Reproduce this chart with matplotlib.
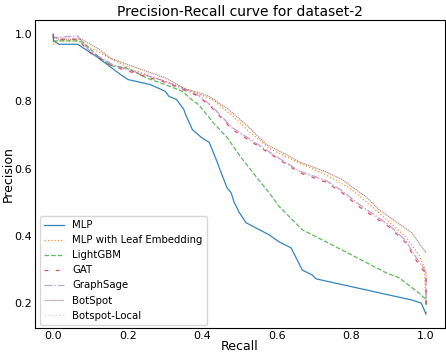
import matplotlib
matplotlib.use("Agg")
import matplotlib.pyplot as plt

names = ["MLP", "MLP with Leaf Embedding", "LightGBM", "GAT", "GraphSage", "BotSpot", "Botspot-Local"]

mlp_r = [0.0, 0.0, 0.015, 0.065, 0.12, 0.18, 0.2, 0.26, 0.30, 0.31, 0.33, 0.35, 0.355, 0.373, 0.397, 0.418,
         0.426, 0.44, 0.45, 0.466, 0.477, 0.485, 0.499, 0.517, 0.579, 0.606, 0.638, 0.668, 0.694, 0.705,
         0.962, 0.987, 1.0]
mlp_p = [1.0, 0.98, 0.97, 0.97, 0.93, 0.88, 0.865, 0.85, 0.83, 0.815, 0.806, 0.776, 0.76, 0.716, 0.693, 0.678,
         0.657, 0.618, 0.588, 0.543, 0.528, 0.50, 0.469, 0.439, 0.403, 0.382, 0.364, 0.298, 0.284, 0.272,
         0.209, 0.2, 0.167]

leaf_r = [0.0, 0.0, 0.015, 0.065, 0.07, 0.123, 0.21, 0.30, 0.373, 0.39, 0.426, 0.48, 0.525, 0.58, 0.64, 0.73,
          0.794, 0.855, 0.874, 0.946, 0.981, 0.995, 1.0]
leaf_p = [0.99, 0.97, 0.98, 0.98, 0.976, 0.946, 0.895, 0.86, 0.83, 0.822, 0.806, 0.758, 0.71, 0.66, 0.627, 0.582,
          0.543, 0.487, 0.468, 0.397, 0.343, 0.307, 0.2]

lgb_r = [0.0, 0.0, 0.015, 0.065, 0.08, 0.123, 0.158, 0.195, 0.25, 0.30, 0.346, 0.37, 0.39, 0.40, 0.418, 0.426,
         0.466, 0.499, 0.544, 0.579, 0.606, 0.668, 0.785, 0.893, 0.928, 0.981, 1.0, 1.0]
lgb_p = [1.0, 0.98, 0.98, 0.98, 0.976, 0.93, 0.905, 0.9, 0.87, 0.85, 0.83, 0.806, 0.79, 0.776, 0.752, 0.74,
         0.693, 0.64, 0.576, 0.528, 0.487, 0.418, 0.352, 0.29, 0.275, 0.23, 0.21, 0.19]

gat_r = [0.0, 0.0, 0.015, 0.065, 0.097, 0.158, 0.23, 0.30, 0.39, 0.426, 0.48, 0.534, 0.597, 0.66, 0.731, 0.775,
         0.82, 0.9, 0.946, 0.973, 0.99, 1.0, 1.0]
gat_p = [1.0, 0.99, 0.985, 0.985, 0.946, 0.905, 0.88, 0.857, 0.815, 0.78, 0.716, 0.678, 0.633, 0.588, 0.56, 0.528,
         0.487, 0.427, 0.379, 0.328, 0.3, 0.29, 0.17]

sage_r = [0.0, 0.0, 0.065, 0.097, 0.158, 0.23, 0.30, 0.39, 0.426, 0.48, 0.534, 0.597, 0.66, 0.731, 0.775,
          0.82, 0.9, 0.946, 0.973, 0.99, 1.0, 1.0]
sage_p = [1.0, 0.99, 0.995, 0.95, 0.91, 0.884, 0.86, 0.818, 0.785, 0.722, 0.683, 0.637, 0.593, 0.565, 0.534,
          0.494, 0.433, 0.386, 0.336, 0.31, 0.29, 0.2]

bot_r = [0.0, 0.0, 0.015, 0.065, 0.075, 0.123, 0.15, 0.21, 0.30, 0.356, 0.39, 0.418, 0.47, 0.517, 0.571, 0.625,
         0.66, 0.732, 0.775, 0.839, 0.874, 0.962, 1.0]
bot_p = [1.0, 0.99, 0.985, 0.985, 0.985, 0.955, 0.93, 0.905, 0.87, 0.836, 0.826, 0.815, 0.776, 0.731, 0.672, 0.642,
         0.62, 0.59, 0.567, 0.516, 0.478, 0.409, 0.349]

loc_r = [0.0, 0.0, 0.065, 0.097, 0.158, 0.23, 0.30, 0.39, 0.426, 0.48, 0.534, 0.597, 0.66, 0.731, 0.775,
         0.82, 0.9, 0.946, 0.973, 0.99, 1.0, 1.0]
loc_p = [1.0, 0.99, 0.99, 0.948, 0.908, 0.882, 0.858, 0.816, 0.782, 0.719, 0.68, 0.635, 0.59, 0.562, 0.531,
         0.49, 0.43, 0.383, 0.333, 0.31, 0.3, 0.22]

curves = [(mlp_r, mlp_p), (leaf_r, leaf_p), (lgb_r, lgb_p), (gat_r, gat_p),
          (sage_r, sage_p), (bot_r, bot_p), (loc_r, loc_p)]
colors = ["#1f77b4", "#ff7f0e", "#2ca02c", "#d62728", "#9467bd", "#8c564b", "#e377c2"]
styles = ["-", ":", "--", (0, (3, 6)), "-.", (0, (1, 0.6)), (0, (1, 2))]
alphas = [0.9, 0.85, 0.75, 0.8, 0.6, 0.65, 0.45]

fig = plt.figure(figsize=(4.46, 3.54), dpi=100)
ax = fig.add_axes([0.078, 0.073, 0.919, 0.870])
for (r, p), name, c, ls, a in zip(curves, names, colors, styles, alphas):
    ax.plot(r, p, color=c, linestyle=ls, linewidth=0.9, alpha=a, label=name)

ax.set_title("Precision-Recall curve for dataset-2", fontsize=10, pad=3)
ax.set_xlabel("Recall", fontsize=9, labelpad=-1)
ax.set_ylabel("Precision", fontsize=9, labelpad=0)
ax.set_xticks([0.0, 0.2, 0.4, 0.6, 0.8, 1.0])
ax.set_yticks([0.2, 0.4, 0.6, 0.8, 1.0])
ax.tick_params(length=0, labelsize=8, pad=2)
ax.legend(loc="lower left", fontsize=7.3, handlelength=2, labelspacing=0.5, borderpad=0.4,
          bbox_to_anchor=(0.0, -0.005))
fig.savefig("out.png", dpi=100)
